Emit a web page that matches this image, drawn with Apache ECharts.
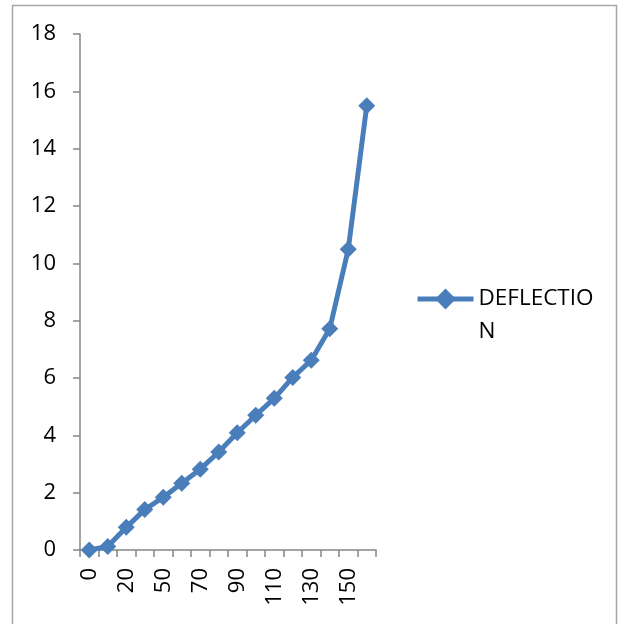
<!DOCTYPE html>
<html>
<head>
<meta charset="utf-8">
<script src="https://cdn.jsdelivr.net/npm/echarts@6/dist/echarts.min.js"></script>
<style>
  html, body { margin: 0; padding: 0; background: #fff; }
  #chart { width: 624px; height: 624px; }
</style>
</head>
<body>
<div id="chart"></div>
<script>
// Load steps (category axis) and measured deflection
const loads = ['0', '10', '20', '35', '50', '60', '70', '80', '90', '100', '110', '120', '130', '140', '150', '160'];
const deflection = [0, 0.12, 0.79, 1.41, 1.84, 2.33, 2.82, 3.42, 4.09, 4.7, 5.29, 6.02, 6.62, 7.72, 10.49, 15.5];
const seriesName = 'DEFLECTION';
const legendLines = ['DEFLECTIO', 'N'];
const yTicks = { min: 0, max: 18, step: 2 };

const FONT = '"Open Sans", "Noto Sans", sans-serif';
const FONT_SIZE = 22;
const AXIS_GRAY = '#868686';
const BLUE = '#4A7EBB';

const chart = echarts.init(document.getElementById('chart'), null, { renderer: 'canvas' });

chart.setOption({
  backgroundColor: '#ffffff',
  animation: false,
  graphic: [{
    type: 'rect',
    shape: { x: 12.5, y: 5.5, width: 604, height: 640 },
    style: { fill: 'none', stroke: '#a6a6a6', lineWidth: 1.5 },
    silent: true,
    z: -1
  }],
  grid: { left: 80, top: 34, right: 248, bottom: 74, containLabel: false },
  legend: {
    left: 415,
    top: 299 - 49.5,
    padding: 0,
    itemWidth: 56,
    itemHeight: 26,
    itemGap: 0,
    lineStyle: { width: 5 },
    // leading blank line keeps the marker level with the first text line
    formatter: () => '\n' + legendLines.join('\n'),
    textStyle: {
      fontFamily: FONT,
      fontSize: 22.5,
      color: '#000',
      lineHeight: 33
    },
    data: [seriesName]
  },
  xAxis: {
    type: 'category',
    data: loads,
    boundaryGap: true,
    axisLine: { show: true, lineStyle: { color: AXIS_GRAY, width: 1.5 } },
    axisTick: { show: true, interval: 0, length: 7, lineStyle: { color: AXIS_GRAY, width: 1.5 } },
    axisLabel: {
      interval: 1,
      rotate: 90,
      margin: 18,
      fontFamily: FONT,
      fontSize: FONT_SIZE,
      color: '#000'
    },
    splitLine: { show: false }
  },
  yAxis: {
    type: 'value',
    min: yTicks.min,
    max: yTicks.max,
    interval: yTicks.step,
    axisLine: { show: true, lineStyle: { color: AXIS_GRAY, width: 1.5 } },
    axisTick: { show: true, length: 7, lineStyle: { color: AXIS_GRAY, width: 1.5 } },
    axisLabel: {
      margin: 24,
      fontFamily: FONT,
      fontSize: FONT_SIZE,
      color: '#000'
    },
    splitLine: { show: false }
  },
  series: [{
    name: seriesName,
    type: 'line',
    data: deflection,
    symbol: 'diamond',
    symbolSize: 17,
    showSymbol: true,
    showAllSymbol: true,
    itemStyle: { color: BLUE },
    lineStyle: { color: BLUE, width: 5 },
    emphasis: { disabled: true }
  }]
});
</script>
</body>
</html>
